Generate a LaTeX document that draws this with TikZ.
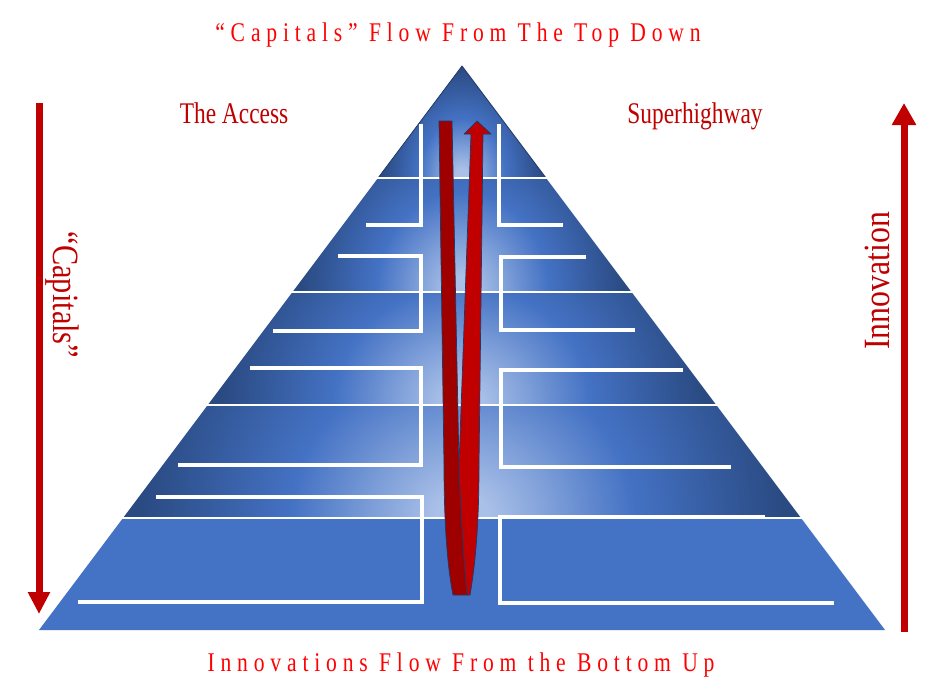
\documentclass[tikz,border=0pt]{standalone}
\usepackage{fontspec}
\setmainfont{Liberation Serif}
\newfontfamily\spacedfont[LetterSpace=27]{Liberation Serif}
\usepackage{graphicx}
\usetikzlibrary{arrows.meta}
\definecolor{pyrmid}{HTML}{4472C4}
\definecolor{pyrlight}{HTML}{A9C0E8}
\definecolor{pyrdark}{HTML}{2A4A82}
\definecolor{arrowred}{HTML}{C00000}
\definecolor{darkstrand}{HTML}{9E0000}
\definecolor{outlinenavy}{HTML}{1F3864}
\definecolor{titlered}{HTML}{FF0000}
\pgfdeclareradialshading{bandshade}{\pgfpoint{0bp}{0bp}}{color(0bp)=(pyrlight); color(2bp)=(pyrlight); color(12.5bp)=(pyrmid); color(23.5bp)=(pyrdark); color(50bp)=(pyrdark)}
\tikzset{
  wline/.style={draw=white, line width=3.5pt},
  sepline/.style={draw=white, line width=1.2pt},
  sidelabel/.style={text=arrowred, inner sep=0pt, anchor=base},
  titlelabel/.style={text=titlered, inner sep=0pt, anchor=base, font=\spacedfont\fontsize{27}{32}\selectfont},
  bigarrow/.style={draw=arrowred, line width=7pt},
  ribbon/.style={draw=outlinenavy, line width=0.7pt, line join=round},
}
\begin{document}
\begin{tikzpicture}[x=1pt,y=-1pt]
\path[fill=white] (0,0) rectangle (936,696);
% band shadings
\begin{scope}
  \clip (462,66) -- (546,178) -- (378,178) -- cycle;
  \shade[shading=bandshade] (462,178) ellipse (86 and 118);
\end{scope}
\begin{scope}
  \clip (378,178) -- (546,178) -- (631.5,292) -- (292.5,292) -- cycle;
  \shade[shading=bandshade] (462,292) ellipse (172 and 200);
\end{scope}
\begin{scope}
  \clip (292.5,292) -- (631.5,292) -- (716.25,405) -- (207.75,405) -- cycle;
  \shade[shading=bandshade] (462,405) ellipse (256 and 240);
\end{scope}
\begin{scope}
  \clip (207.75,405) -- (716.25,405) -- (801,518) -- (123,518) -- cycle;
  \shade[shading=bandshade] (462,518) ellipse (341 and 320);
\end{scope}
\fill[pyrmid] (123,518) -- (801,518) -- (885,630) -- (39,630) -- cycle;
\draw[outlinenavy, line width=0.8pt, line join=round] (462,66) -- (546,178) -- (378,178) -- cycle;
% separators
\draw[sepline] (376,178) -- (548,178);
\draw[sepline] (290,292) -- (634,292);
\draw[sepline] (205,405) -- (719,405);
\draw[sepline] (120,518) -- (804,518);
% white paths left
\draw[wline] (366,225) -- (421,225) -- (421,124);
\draw[wline] (338,256) -- (421,256) -- (421,331) -- (273,331);
\draw[wline] (250,368) -- (421,368) -- (421,465) -- (178,465);
\draw[wline] (156,497) -- (422,497) -- (422,602) -- (78,602);
% white paths right
\draw[wline] (499,124) -- (499,225) -- (563,225);
\draw[wline] (586,257) -- (501,257) -- (501,330) -- (635,330);
\draw[wline] (683,370) -- (501,370) -- (501,467) -- (731,467);
\draw[wline] (765,517) -- (500,517) -- (500,603) -- (834,603);
% ribbon U arrow
\coordinate (J) at (459,465);
\filldraw[ribbon, fill=darkstrand] (439,121) -- (452,121) -- (J) .. controls (461,520) and (464,560) .. (467,595) -- (453,595) .. controls (447,565) and (444,520) .. (444,465) -- cycle;
\filldraw[ribbon, fill=arrowred] (471,134) -- (J) .. controls (461,520) and (464,560) .. (467,595) -- (470,595) .. controls (476,560) and (479,520) .. (479,465) -- (483,134) -- (491,134) -- (477,121) -- (464,134) -- cycle;
% side arrows
\coordinate (lefttop) at (39,103);
\coordinate (leftbot) at (39,614);
\coordinate (rightbot) at (904,632);
\coordinate (righttop) at (904,103);
\draw[bigarrow, -{Triangle[width=21pt,length=22pt]}] (lefttop) -- (leftbot);
\draw[bigarrow, -{Triangle[width=23pt,length=22pt]}] (rightbot) -- (righttop);
% labels
\node[titlelabel] (toptitle) at (458,41) {\scalebox{0.8}[1]{“Capitals” Flow From The Top Down}};
\node[titlelabel] (bottitle) at (461,671) {\scalebox{0.8}[1]{Innovations Flow From the Bottom Up}};
\node[sidelabel, font=\fontsize{30}{36}\selectfont] (access) at (234,123) {\scalebox{0.78}[1]{The Access}};
\node[sidelabel, font=\fontsize{30}{36}\selectfont] (superhw) at (695,123) {\scalebox{0.78}[1]{Superhighway}};
\node[sidelabel, font=\fontsize{37}{44}\selectfont, rotate=90] (innov) at (889,281) {\scalebox{0.86}[1]{Innovation}};
\node[sidelabel, font=\fontsize{37}{44}\selectfont, rotate=-90] (capit) at (53,295) {\scalebox{0.82}[1]{“Capitals”}};
\end{tikzpicture}
\end{document}
